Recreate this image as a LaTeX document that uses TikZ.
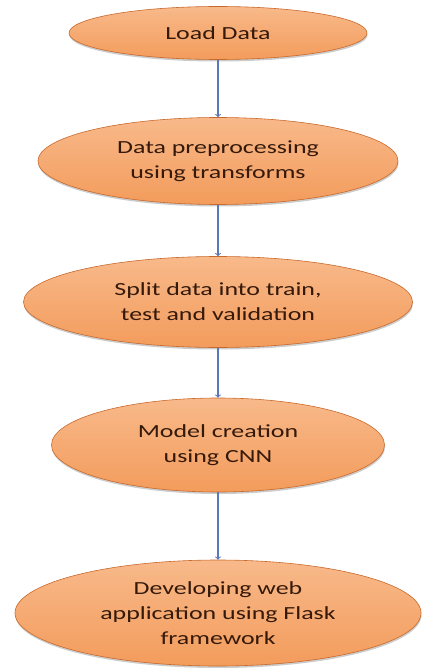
\documentclass[tikz,border=0pt]{standalone}
\usepackage{fontspec}
\setmainfont[FakeStretch=1.4]{Carlito}
\usetikzlibrary{positioning,shapes.geometric,shadows}
\definecolor{phasetop}{HTML}{F8B98A}
\definecolor{phasemid}{HTML}{EE8034}
\definecolor{phasebot}{HTML}{F39C5C}
\definecolor{phaseline}{HTML}{C8692B}
\definecolor{phasetext}{HTML}{35190A}
\definecolor{flowblue}{HTML}{5B78B8}

\begin{document}
\begin{tikzpicture}[x=1pt,y=1pt,node distance=130pt,on grid,auto]
    \tikzset{phase/.style={ellipse,draw=phaseline,line width=0.6pt,
        top color=phasetop,middle color=phasemid,bottom color=phasebot,
        inner sep=0pt,align=center,text=phasetext,
        font=\fontsize{18.5}{25}\selectfont,
        drop shadow={shadow xshift=0.5pt,shadow yshift=-2pt,fill=black!40,opacity=0.5}}}
    \useasboundingbox (-218,33) rectangle (204,-635);
    \node[phase,minimum width=298pt,minimum height=53pt] (q0) {Load Data};
    \node[phase,minimum width=360pt,minimum height=87pt] (q1) [below = 128pt of q0] {Data preprocessing\\using transforms};
    \node[phase,minimum width=389pt,minimum height=91pt] (q2) [below = 141pt of q1] {Split data into train,\\test and validation};
    \node[phase,minimum width=333pt,minimum height=94pt] (q3) [below = 143pt of q2] {Model creation\\using CNN};
    \node[phase,minimum width=406pt,minimum height=106pt] (q4) [below = 168pt of q3] {Developing web\\application using Flask\\framework};
    \path[->,flowblue,line width=1.1pt]
    (q0)
    edge [] (q1)
    (q1)
    edge [] (q2)
    (q2)
    edge [] (q3)
    (q3)
    edge [] (q4)
    ;
  \end{tikzpicture}
\end{document}
